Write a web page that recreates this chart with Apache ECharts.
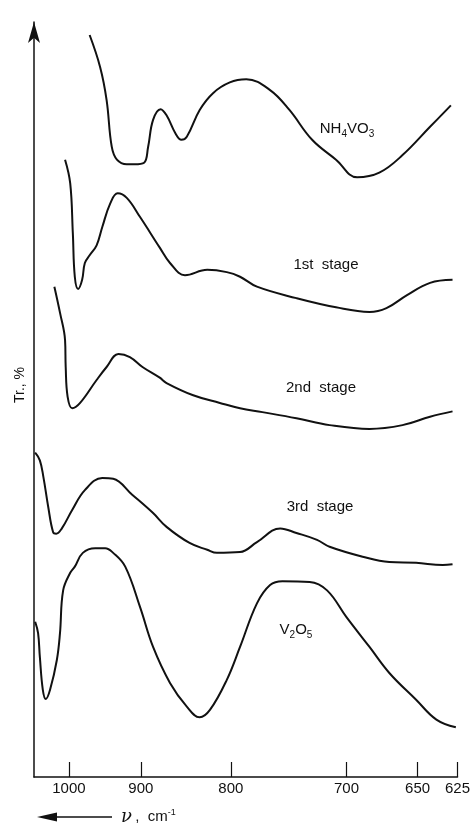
<!DOCTYPE html>
<html>
<head>
<meta charset="utf-8">
<script src="https://cdn.jsdelivr.net/npm/echarts@6/dist/echarts.min.js"></script>
<style>
  html, body { margin: 0; padding: 0; background: #fff; }
  #chart { width: 473px; height: 826px; }
</style>
</head>
<body>
<div id="chart"></div>
<script>
// wavenumbers (cm-1) and transmittance (arbitrary offset %)
const nh4vo3Nu = [969, 954, 945, 938, 931, 918, 908, 896, 891, 885, 876, 869, 859, 852, 846, 832, 818, 801, 785, 763, 746, 727, 708, 692, 676, 660, 642, 629];
const nh4vo3Tr = [97.0, 92.8, 88.5, 82.4, 80.7, 80.1, 80.1, 80.3, 82.4, 85.9, 87.3, 86.5, 84.2, 83.3, 83.7, 87.2, 89.4, 90.8, 91.2, 89.8, 87.2, 83.3, 80.7, 78.4, 79.0, 81.3, 85.0, 87.8];

const stage1Nu = [1006, 998, 994, 991, 986, 980, 976, 969, 959, 951, 940, 930, 918, 901, 877, 865, 848, 824, 804, 791, 775, 740, 708, 683, 671, 657, 642, 628];
const stage1Tr = [80.7, 77.6, 71.1, 65.4, 63.8, 65.0, 67.2, 68.2, 69.5, 71.9, 75.0, 76.3, 75.7, 73.2, 69.2, 67.2, 65.6, 66.3, 66.0, 65.4, 64.1, 62.6, 61.4, 60.8, 61.3, 63.0, 64.6, 65.0];

const stage2Nu = [1023, 1014, 1006, 1005, 1002, 995, 983, 959, 945, 929, 914, 898, 877, 869, 839, 811, 791, 770, 740, 713, 683, 660, 642, 628];
const stage2Tr = [64.1, 60.7, 57.1, 53.6, 49.7, 48.2, 48.9, 51.9, 53.6, 55.3, 54.9, 53.6, 52.2, 51.5, 49.9, 48.9, 48.2, 47.7, 46.9, 46.0, 45.5, 46.0, 47.1, 47.8];

const stage3Nu = [1055, 1047, 1041, 1033, 1025, 1020, 1011, 995, 976, 951, 936, 911, 885, 869, 843, 824, 814, 791, 775, 754, 740, 723, 713, 688, 669, 651, 634, 628];
const stage3Tr = [42.4, 41.4, 39.2, 35.3, 32.0, 31.8, 32.5, 34.9, 37.5, 39.1, 39.0, 36.9, 34.5, 32.7, 30.6, 29.7, 29.3, 29.4, 30.7, 32.5, 31.9, 31.0, 30.1, 28.8, 28.1, 28.0, 27.7, 27.8];

const v2o5Nu = [1055, 1050, 1047, 1042, 1037, 1030, 1019, 1014, 1009, 998, 991, 979, 961, 947, 936, 920, 901, 885, 865, 846, 832, 821, 804, 791, 775, 763, 752, 729, 715, 700, 683, 669, 651, 638, 626];
const v2o5Tr = [20.3, 18.8, 15.7, 11.4, 10.2, 11.4, 15.3, 18.8, 24.4, 26.7, 27.5, 29.3, 29.9, 29.9, 29.3, 27.5, 22.2, 17.0, 12.3, 9.2, 7.8, 8.8, 12.7, 17.0, 22.7, 25.1, 25.6, 25.5, 24.4, 20.9, 17.0, 13.6, 10.1, 7.5, 6.5];

const tickLabels = [1000, 900, 800, 700, 650, 625];
const nuMin = 1057, nuMax = 625;

// the x axis of the original is linear in wavelength (10000 / nu)
const toLambda = nu => 10000 / nu;
const pairs = (nu, tr) => nu.map((v, i) => [toLambda(v), tr[i]]);

const chart = echarts.init(document.getElementById('chart'));

function curve(name, nu, tr) {
  return {
    name: name,
    type: 'line',
    data: pairs(nu, tr),
    showSymbol: false,
    smooth: 0.4,
    lineStyle: { color: '#111', width: 2 },
    silent: true
  };
}

const labelFont = 'Liberation Sans';
const subRich = {
  a: { fontSize: 15, fontFamily: labelFont, fill: '#111', lineHeight: 18, verticalAlign: 'bottom' },
  s: { fontSize: 10, fontFamily: labelFont, fill: '#111', lineHeight: 12, verticalAlign: 'bottom', padding: [0, 0, -3, 0] }
};

chart.setOption({
  animation: false,
  grid: { left: 34, right: 15, top: 22, bottom: 49 },
  xAxis: {
    type: 'value',
    min: toLambda(nuMin),
    max: toLambda(nuMax),
    splitLine: { show: false },
    axisLine: { lineStyle: { color: '#111', width: 1.5 } },
    axisTick: {
      inside: true,
      length: 15,
      customValues: tickLabels.map(toLambda),
      lineStyle: { color: '#111', width: 1.2 }
    },
    axisLabel: {
      customValues: tickLabels.map(toLambda),
      formatter: v => String(Math.round(10000 / v)),
      margin: 4,
      color: '#111',
      fontSize: 15,
      fontFamily: labelFont
    }
  },
  yAxis: {
    type: 'value',
    min: 0,
    max: 98.7,
    splitLine: { show: false },
    axisTick: { show: false },
    axisLabel: { show: false },
    axisLine: {
      show: true,
      symbol: ['none', 'arrow'],
      symbolSize: [9, 21],
      lineStyle: { color: '#111', width: 1.5 }
    }
  },
  series: [
    curve('NH4VO3', nh4vo3Nu, nh4vo3Tr),
    curve('1st stage', stage1Nu, stage1Tr),
    curve('2nd stage', stage2Nu, stage2Tr),
    curve('3rd stage', stage3Nu, stage3Tr),
    curve('V2O5', v2o5Nu, v2o5Tr)
  ],
  graphic: [
    {
      type: 'text', x: 347, y: 127,
      style: { text: '{a|NH}{s|4}{a|VO}{s|3}', align: 'center', verticalAlign: 'middle', rich: subRich }
    },
    {
      type: 'text', x: 326, y: 265,
      style: { text: '1st  stage', align: 'center', verticalAlign: 'middle', font: '15px ' + labelFont, fill: '#111' }
    },
    {
      type: 'text', x: 321, y: 388,
      style: { text: '2nd  stage', align: 'center', verticalAlign: 'middle', font: '15px ' + labelFont, fill: '#111' }
    },
    {
      type: 'text', x: 320, y: 507,
      style: { text: '3rd  stage', align: 'center', verticalAlign: 'middle', font: '15px ' + labelFont, fill: '#111' }
    },
    {
      type: 'text', x: 296, y: 628,
      style: { text: '{a|V}{s|2}{a|O}{s|5}', align: 'center', verticalAlign: 'middle', rich: subRich }
    },
    {
      type: 'text', x: 20, y: 385, rotation: Math.PI / 2,
      style: { text: 'Tr., %', align: 'center', verticalAlign: 'middle', font: '14px ' + labelFont, fill: '#111' }
    },
    {
      type: 'polygon',
      shape: { points: [[37, 817], [57, 812.5], [57, 821.5]] },
      style: { fill: '#111' }
    },
    {
      type: 'line',
      shape: { x1: 56, y1: 817, x2: 112, y2: 817 },
      style: { stroke: '#111', lineWidth: 1.5 }
    },
    {
      type: 'text', x: 121, y: 817,
      style: {
        text: '{n|ν} {a|,  cm}{s|-1}',
        align: 'left', verticalAlign: 'middle',
        rich: {
          n: { fontSize: 18, fontFamily: 'DejaVu Serif', fontStyle: 'italic', fill: '#111' },
          a: { fontSize: 15, fontFamily: labelFont, fill: '#111' },
          s: { fontSize: 9, fontFamily: labelFont, fill: '#111', verticalAlign: 'top', padding: [0, 0, 6, 0] }
        }
      }
    }
  ]
});
</script>
</body>
</html>
